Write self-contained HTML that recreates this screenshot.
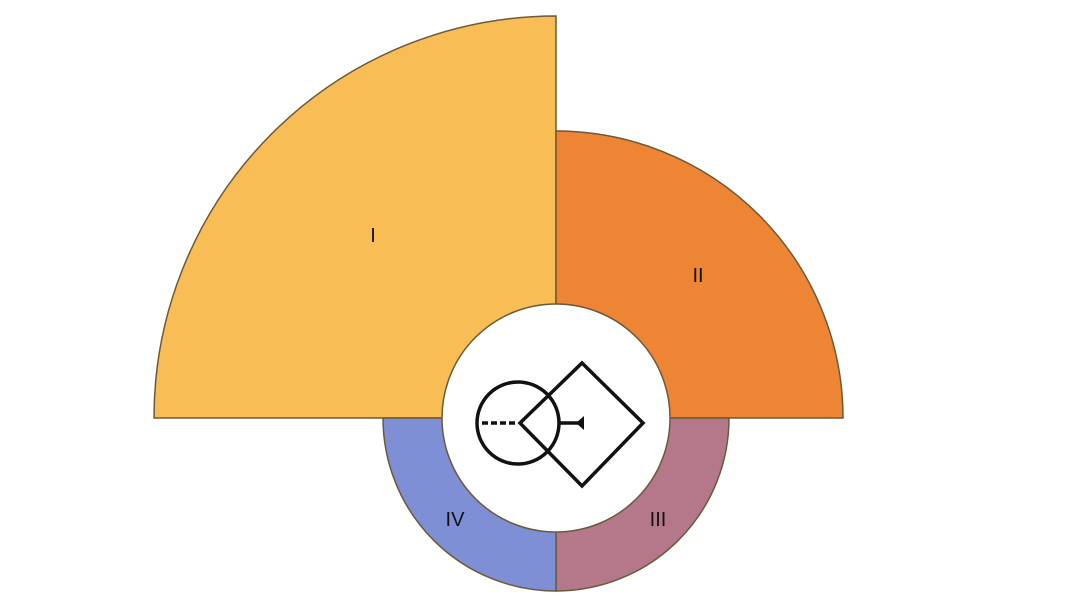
<!DOCTYPE html>
<html><head><style>body{margin:0;background:#fff}</style></head><body>
<svg width="1080" height="607" viewBox="0 0 1080 607" xmlns="http://www.w3.org/2000/svg">
<g stroke="#6b5a3a" stroke-width="1.5">
<path d="M556,418 L154,418 A402,402 0 0 1 556,16 Z" fill="#f9bd55"/>
<path d="M556,418 L556,131 A287,287 0 0 1 843,418 Z" fill="#ed8534"/>
<path d="M556,418 L729,418 A173,173 0 0 1 556,591 Z" fill="#b5788a"/>
<path d="M556,418 L556,591 A173,173 0 0 1 383,418 Z" fill="#7f8fd6"/>
<circle cx="556" cy="418" r="114" fill="#fff"/>
</g>
<g fill="none" stroke="#111" stroke-width="3.5">
<circle cx="518" cy="423" r="41"/>
<path d="M520,423 L582,363 L643,423 L582,486 Z" stroke-linejoin="miter"/>
<path d="M482,423 L518,423" stroke-dasharray="6,3"/>
<path d="M559,423 L580,423"/>
</g>
<path d="M576,423 L584,416 L584,430 Z" fill="#111"/>
<g font-family="Liberation Sans, sans-serif" font-size="20" fill="#111" text-anchor="middle">
<text x="373" y="242">I</text>
<text x="698" y="282">II</text>
<text x="658" y="526">III</text>
<text x="455" y="526">IV</text>
</g>
</svg>
</body></html>
